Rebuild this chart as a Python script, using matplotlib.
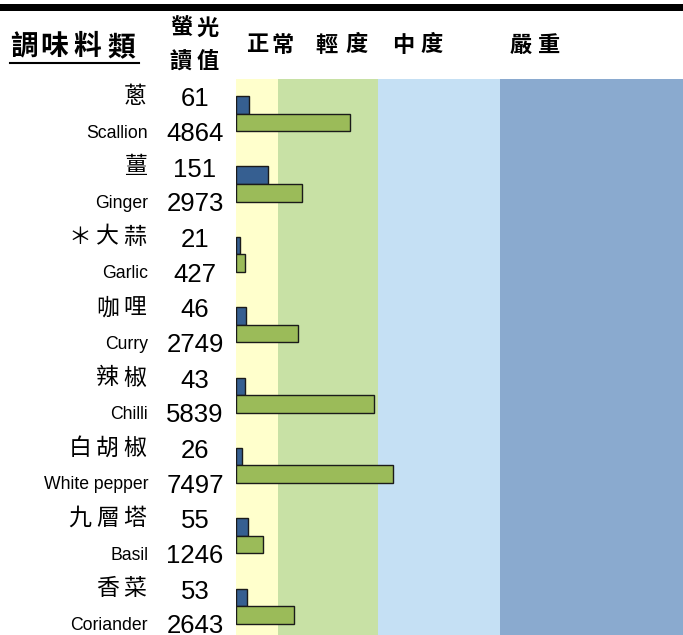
import matplotlib
matplotlib.use("Agg")
import matplotlib.pyplot as plt
import matplotlib.transforms as mtransforms
from matplotlib.patches import Rectangle
from matplotlib.lines import Line2D

# ---------------------------------------------------------------------------
# data
# ---------------------------------------------------------------------------
names_zh = ["蔥", "薑", "＊大蒜", "咖哩", "辣椒", "白胡椒", "九層塔", "香菜"]
names_en = ["Scallion", "Ginger", "Garlic", "Curry", "Chilli", "White pepper", "Basil", "Coriander"]
reading_low = [61, 151, 21, 46, 43, 26, 55, 53]
reading_high = [4864, 2973, 427, 2749, 5839, 7497, 1246, 2643]

# bar lengths as drawn, in % of the band scale width
bar_low = [2.9, 7.1, 1.0, 2.2, 2.1, 1.3, 2.6, 2.5]
bar_high = [25.5, 14.8, 2.1, 13.8, 30.9, 35.2, 6.0, 13.0]

band_labels = ["正常", "輕度", "中度", "嚴重"]
band_edges = [0, 9.4, 31.7, 59.0, 100]
band_colors = ["#FFFFCC", "#C8E1A5", "#C5E0F4", "#8AAACF"]

CJK = ["Noto Sans CJK TC", "DejaVu Sans"]
LAT = ["Liberation Sans", "DejaVu Sans"]

W, H = 683, 635
fig = plt.figure(figsize=(W / 100, H / 100), dpi=100)

def fx(px):
    return px / W

def fy(py):
    return 1 - py / H

ax = fig.add_axes([fx(236), 0, 1 - fx(236), fy(79)])
n = len(names_zh)
ax.set_xlim(0, 100)
ax.set_ylim(-0.493 + 7.905, -0.493)
ax.axis("off")

for i in range(4):
    ax.axvspan(band_edges[i], band_edges[i + 1], color=band_colors[i], lw=0, zorder=0)

h = 0.249
ys = list(range(n))
ax.barh([y - h / 2 for y in ys], bar_low, height=h, left=0, color="#365F91",
        edgecolor="#1a1a1a", lw=1.0, zorder=2)
ax.barh([y + h / 2 for y in ys], bar_high, height=h, left=0, color="#9BBB59",
        edgecolor="#1a1a1a", lw=1.0, zorder=2)

# row labels (Chinese names are spread out one character at a time)
tr = mtransforms.blended_transform_factory(fig.transFigure, ax.transData)
step = 27.5
for i in range(n):
    chars = list(names_zh[i])
    for k, ch in enumerate(reversed(chars)):
        ax.text(fx(135 - step * k), i - 0.15, ch, transform=tr, ha="center", va="baseline",
                fontsize=16.5, family=CJK, clip_on=False)
    ax.text(fx(148), i + 0.34, names_en[i], transform=tr, ha="right", va="baseline",
            fontsize=12.7, family=LAT, clip_on=False)
    ax.text(fx(195), i - 0.105, str(reading_low[i]), transform=tr, ha="center", va="baseline",
            fontsize=18.5, family=LAT, clip_on=False)
    ax.text(fx(195), i + 0.39, str(reading_high[i]), transform=tr, ha="center", va="baseline",
            fontsize=18.5, family=LAT, clip_on=False)

# header
fig.add_artist(Rectangle((0, fy(11)), 1, fy(4) - fy(11), transform=fig.transFigure,
                         color="black", lw=0))
for ch, xc in zip("調味料類", [24, 54, 87, 121]):
    fig.text(fx(xc), fy(47), ch, ha="center", va="center", fontsize=20,
             fontweight="bold", family=CJK)
fig.add_artist(Line2D([fx(10), fx(139)], [fy(63), fy(63)], color="black", lw=1.5,
                      transform=fig.transFigure))
for ch, xc, yc in zip("螢光讀值", [181, 208, 181, 208], [28, 28, 62, 62]):
    fig.text(fx(xc), fy(yc), ch, ha="center", va="center", fontsize=16,
             fontweight="bold", family=CJK)
head_x = [[257, 283], [326, 357], [403, 432], [521, 549]]
for lab, xs in zip(band_labels, head_x):
    for ch, xc in zip(lab, xs):
        fig.text(fx(xc), fy(45), ch, ha="center", va="center", fontsize=16,
                 fontweight="bold", family=CJK)

fig.savefig("out.png", dpi=100)
